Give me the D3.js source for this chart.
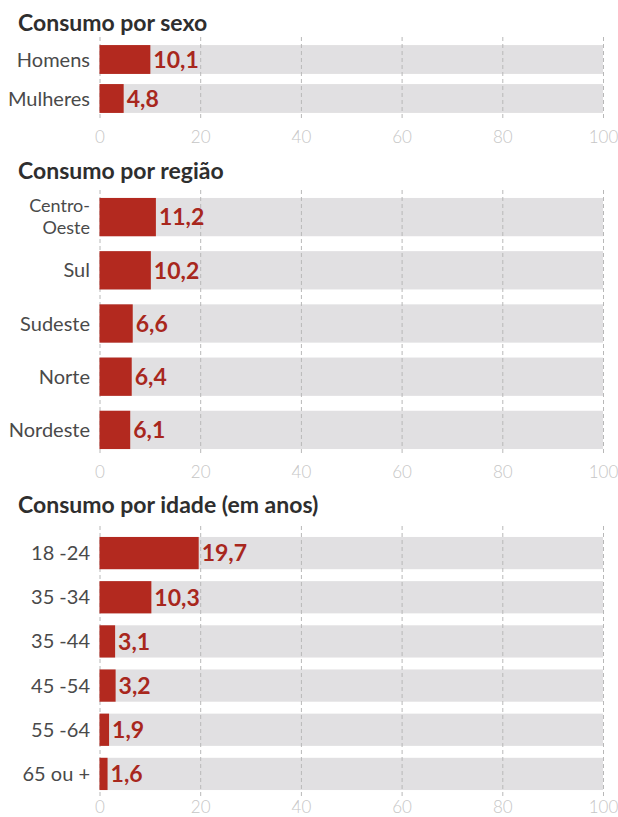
<html lang="pt">
<head>
  <meta charset="UTF-8"/>
  <title>Consumo</title>
  <script src="https://d3js.org/d3.v7.min.js"></script>
</head>
<style>
body {
  margin: 0;
  background: #fff;
  font-family: 'Lato', sans-serif;
}

svg {
  display: block;
}

.track {
  fill: #e1e0e2;
}

.bar {
  fill: #b3291f;
}

text.title {
  font-size: 23px;
  font-weight: 700;
  fill: #2e2e2e;
}

text.cat {
  font-size: 20px;
  fill: #4a4a4a;
}

text.cat.two {
  font-size: 18px;
}

text.value {
  font-size: 23px;
  font-weight: 700;
  fill: #a8271d;
}

.grid line {
  stroke: #b8b8b8;
  stroke-width: 1;
  stroke-dasharray: 4 3;
}

.grid path {
  stroke-width: 0;
}

.axis text {
  font-size: 17px;
  font-weight: 300;
  fill: #c6c6c6;
  font-family: 'Lato', sans-serif;
}

.axis path, .axis line {
  stroke-width: 0;
}
</style>
<body>
<svg width="618" height="817"></svg>
<script>
    const sexoCats = ['Homens', 'Mulheres'];
    const sexoVals = [10.1, 4.8];

    const regiaoCats = ['Centro-Oeste', 'Sul', 'Sudeste', 'Norte', 'Nordeste'];
    const regiaoVals = [11.2, 10.2, 6.6, 6.4, 6.1];

    const idadeCats = ['18 -24', '35 -34', '35 -44', '45 -54', '55 -64', '65 ou +'];
    const idadeVals = [19.7, 10.3, 3.1, 3.2, 1.9, 1.6];

    const xTicks = [0, 20, 40, 60, 80, 100];

    const svg = d3.select('svg');

    const x = d3.scaleLinear()
      .domain([0, 100])
      .range([99.5, 603]);

    const fmt = (v) => v.toFixed(1).replace('.', ',');

    // one small chart per block
    function panel(opts) {
      const { title, titleY, cats, vals, band, pad, gridTop, gridBottom, tickY } = opts;

      const y = d3.scaleBand()
        .domain(cats)
        .range(band)
        .paddingInner(pad)
        .paddingOuter(pad / 2);

      const g = svg.append('g');

      g.append('text')
        .attr('class', 'title')
        .attr('x', 18)
        .attr('y', titleY)
        .text(title);

      // background tracks
      g.selectAll('.track')
        .data(cats)
        .enter()
        .append('rect')
        .attr('class', 'track')
        .attr('x', x(0))
        .attr('y', (c) => y(c))
        .attr('width', x(100) - x(0))
        .attr('height', y.bandwidth());

      // dashed grid
      g.append('g')
        .attr('class', 'grid')
        .attr('transform', `translate(0, ${gridTop})`)
        .call(d3.axisBottom(x)
          .tickValues(xTicks)
          .tickSize(gridBottom - gridTop)
          .tickFormat('')
        );

      const data = cats.map((c, i) => ({ cat: c, val: vals[i] }));

      g.selectAll('.bar')
        .data(data)
        .enter()
        .append('rect')
        .attr('class', 'bar')
        .attr('x', x(0))
        .attr('y', (d) => y(d.cat))
        .attr('width', (d) => x(d.val) - x(0))
        .attr('height', y.bandwidth());

      g.selectAll('.value')
        .data(data)
        .enter()
        .append('text')
        .attr('class', 'value')
        .attr('x', (d) => x(d.val) + 3)
        .attr('y', (d) => y(d.cat) + y.bandwidth() / 2)
        .attr('dy', '0.36em')
        .text((d) => fmt(d.val));

      // category labels ("Centro-Oeste" goes on two lines)
      data.forEach((d) => {
        const cy = y(d.cat) + y.bandwidth() / 2;
        if (/[A-Za-z]-[A-Za-z]/.test(d.cat)) {
          const parts = d.cat.split('-');
          [parts[0] + '-', parts[1]].forEach((line, k) => {
            g.append('text')
              .attr('class', 'cat two')
              .attr('text-anchor', 'end')
              .attr('x', 90)
              .attr('y', cy + (k === 0 ? -11 : 11))
              .attr('dy', '0.35em')
              .text(line);
          });
        } else {
          g.append('text')
            .attr('class', 'cat')
            .attr('text-anchor', 'end')
            .attr('x', 90)
            .attr('y', cy)
            .attr('dy', '0.35em')
            .text(d.cat);
        }
      });

      g.append('g')
        .attr('class', 'axis')
        .attr('transform', `translate(0, ${tickY})`)
        .call(d3.axisBottom(x)
          .tickValues(xTicks)
          .tickSize(0)
          .tickPadding(0)
        )
        .selectAll('text')
        .attr('dy', '0.35em');
    }

    panel({
      title: 'Consumo por sexo', titleY: 31,
      cats: sexoCats, vals: sexoVals,
      band: [40, 118], pad: 0.26,
      gridTop: 37, gridBottom: 121, tickY: 137
    });

    panel({
      title: 'Consumo por região', titleY: 179,
      cats: regiaoCats, vals: regiaoVals,
      band: [190.5, 456.5], pad: 0.28,
      gridTop: 190, gridBottom: 455, tickY: 472
    });

    panel({
      title: 'Consumo por idade (em anos)', titleY: 513,
      cats: idadeCats, vals: idadeVals,
      band: [531, 796], pad: 0.27,
      gridTop: 526, gridBottom: 796, tickY: 807
    });
</script>
</body>
</html>
